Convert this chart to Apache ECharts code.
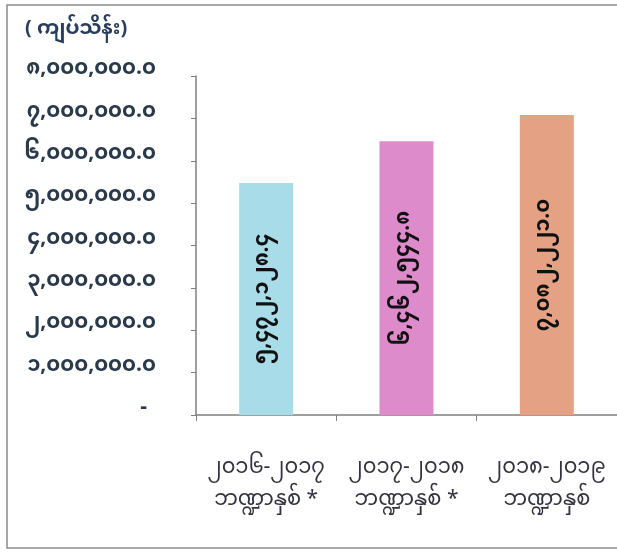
<!DOCTYPE html>
<html>
<head>
<meta charset="utf-8">
<script src="https://cdn.jsdelivr.net/npm/echarts@6/dist/echarts.min.js"></script>
<style>
html,body{margin:0;padding:0;background:#fff;}
#c{width:617px;height:555px;}
</style>
</head>
<body>
<div id="c"></div>
<script>
const categories = ['၂၀၁၆-၂၀၁၇\nဘဏ္ဍာနှစ် *', '၂၀၁၇-၂၀၁၈\nဘဏ္ဍာနှစ် *', '၂၀၁၈-၂၀၁၉\nဘဏ္ဍာနှစ်'];
const values = [5472128.4, 6462544.8, 7082221.0];
const barColors = ['#a9dce9', '#de8bcb', '#e4a184'];
const unitLabel = '( ကျပ်သိန်း)';

const mmDigits = ['၀','၁','၂','၃','၄','၅','၆','၇','၈','၉'];
function toMM(s){ return String(s).replace(/[0-9]/g, d => mmDigits[+d]); }
function fmt(v){
  const parts = v.toFixed(1).split('.');
  const intPart = parts[0].replace(/\B(?=(\d{3})+(?!\d))/g, ',');
  return toMM(intPart + '.' + parts[1]);
}
const FONT = '"Noto Sans Myanmar","Padauk","Myanmar Text","Noto Sans","DejaVu Sans",sans-serif';

const chart = echarts.init(document.getElementById('c'), null, {renderer:'canvas'});
chart.setOption({
  backgroundColor:'#fff',
  animation:false,
  graphic:[
    {type:'rect', shape:{x:7,y:5,width:640,height:543}, style:{fill:'none', stroke:'#8c8c8c', lineWidth:1.5}, z:-1},
    {type:'text', left:25, top:22, style:{text:unitLabel, fill:'#2b3d5c', font:'bold 20px ' + FONT}}
  ],
  grid:{left:196, right:-6, top:76, bottom:140},
  xAxis:{
    type:'category', data:categories,
    axisLine:{lineStyle:{color:'#7f7f7f', width:1.5}},
    axisTick:{show:true, length:6, lineStyle:{color:'#7f7f7f'}},
    axisLabel:{color:'#33333f', fontFamily:FONT, fontSize:21, lineHeight:32, margin:40, interval:0}
  },
  yAxis:{
    type:'value', min:0, max:8000000, interval:1000000,
    axisLine:{show:true, lineStyle:{color:'#7f7f7f', width:1.5}},
    axisTick:{show:true, length:5, lineStyle:{color:'#7f7f7f'}},
    splitLine:{show:false},
    axisLabel:{color:'#2b3a4a', fontFamily:FONT, fontSize:21, fontWeight:'bold', margin:40,
      padding:[0,0,8,0],
      formatter: v => v === 0 ? '{d|-}' : fmt(v),
      rich:{d:{padding:[0,9,0,0], fontSize:21, fontWeight:'bold', color:'#2b3a4a'}}}
  },
  series:[{
    type:'bar', data:values.map((v,i)=>({value:v, itemStyle:{color:barColors[i]}})),
    barWidth:54,
    label:{show:true, position:'inside', rotate:90, color:'#111', fontFamily:FONT, fontSize:21, fontWeight:'bold',
      formatter: p => fmt(p.value)}
  }]
});
</script>
</body>
</html>
